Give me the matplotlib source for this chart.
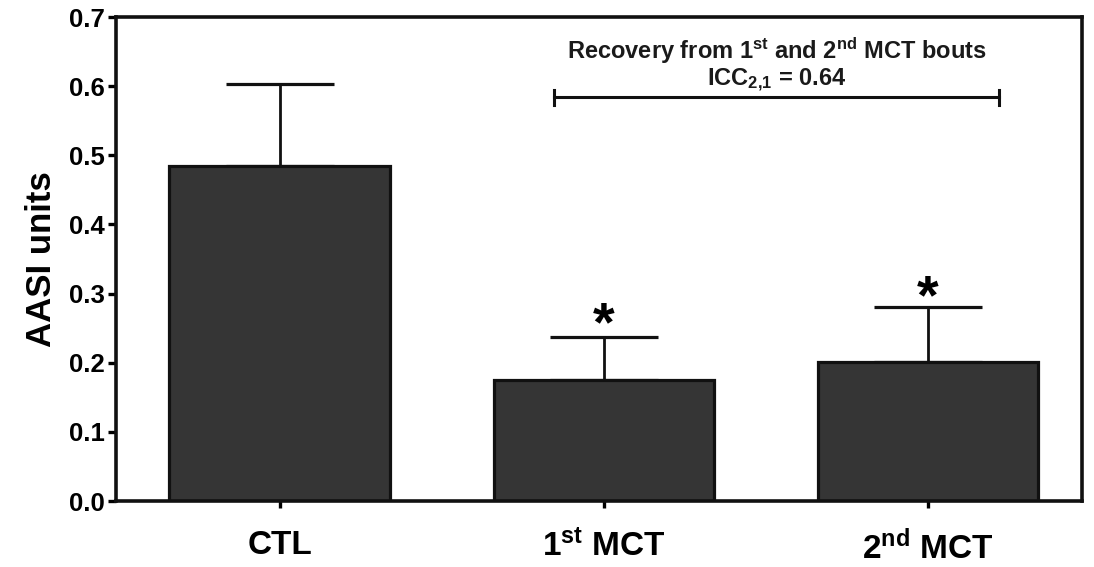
import numpy as np
import matplotlib
matplotlib.use("Agg")
import matplotlib.pyplot as plt

plt.rcParams['font.family'] = ['Liberation Sans', 'DejaVu Sans']
plt.rcParams['font.weight'] = 'bold'
plt.rcParams['mathtext.fontset'] = 'custom'
plt.rcParams['mathtext.rm'] = 'Liberation Sans:bold'
plt.rcParams['mathtext.it'] = 'Liberation Sans:bold'
plt.rcParams['mathtext.bf'] = 'Liberation Sans:bold'
plt.rcParams['mathtext.default'] = 'rm'

# data
groups = ['CTL', '1$^{st}$ MCT', '2$^{nd}$ MCT']
means = [0.485, 0.175, 0.201]
sem = [0.118, 0.062, 0.080]
star_y = [None, 0.252, 0.292]
yticks = [0.0, 0.1, 0.2, 0.3, 0.4, 0.5, 0.6, 0.7]

fig = plt.figure(figsize=(10.94, 5.67), dpi=100)
ax = fig.add_axes([0.106, 0.1164, 0.883, 0.8536])

x = np.arange(len(groups))
ax.bar(x, means, width=0.68, color='#353535', edgecolor='#111111', linewidth=2.3, zorder=2)
ax.errorbar(x, means, yerr=[np.zeros(len(sem)), sem], fmt='none', ecolor='#111111',
            elinewidth=2.0, capsize=39, capthick=2.3, zorder=1)

for xi, sy in zip(x, star_y):
    if sy is not None:
        ax.text(xi, sy, '*', ha='center', va='center', fontsize=40, fontweight='bold')

# bracket between MCT bouts
bx0, bx1, by = 0.845, 2.22, 0.584
ax.plot([bx0, bx1], [by, by], color='#111111', lw=2.2)
ax.plot([bx0, bx0], [by - 0.011, by + 0.011], color='#111111', lw=2.2)
ax.plot([bx1, bx1], [by - 0.011, by + 0.011], color='#111111', lw=2.2)
ax.text((bx0 + bx1) / 2, 0.652, 'Recovery from 1$^{st}$ and 2$^{nd}$ MCT bouts',
        ha='center', va='center', fontsize=17, fontweight='bold', color='#1a1a1a')
ax.text((bx0 + bx1) / 2, 0.608, 'ICC$_{2{,}1}$ = 0.64',
        ha='center', va='center', fontsize=17, fontweight='bold', color='#1a1a1a')

ax.set_xlim(-0.505, 2.475)
ax.set_ylim(0, 0.7)
ax.set_yticks(yticks)
ax.set_yticklabels([f'{t:.1f}' for t in yticks])
ax.set_xticks(x)
ax.set_xticklabels(groups)
ax.set_ylabel('AASI units', fontsize=25, fontweight='bold', labelpad=8)

for s in ax.spines.values():
    s.set_linewidth(2.6)
    s.set_color('#111111')
ax.tick_params(axis='y', labelsize=18.5, width=2.4, length=6, pad=2)
ax.tick_params(axis='x', labelsize=24, width=2.4, length=5, pad=16)

fig.savefig('out.png', dpi=100)
